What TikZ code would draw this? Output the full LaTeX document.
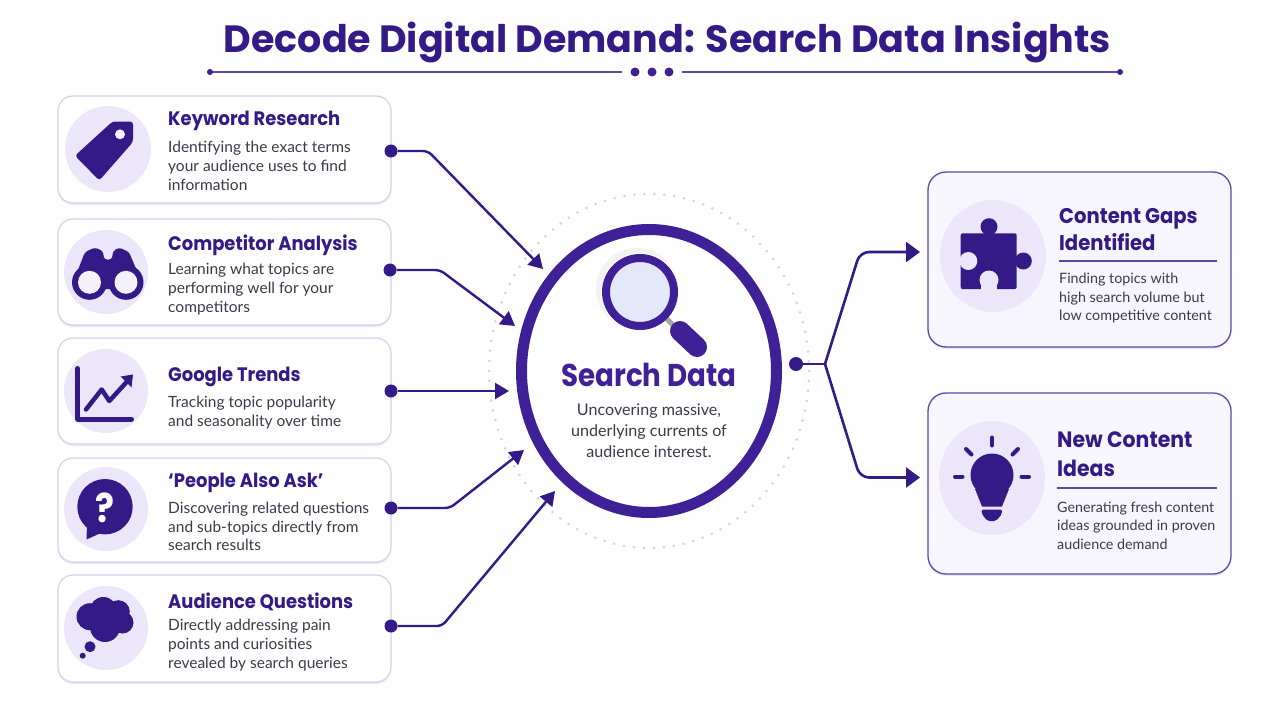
\documentclass[tikz,border=0pt]{standalone}
\usepackage{fontspec}
\setmainfont{Lato}
\newfontfamily\titlefont{Poppins}
\newfontfamily\headfont{Poppins}[FakeStretch=0.92]
\newfontfamily\hubfont{Poppins}[FakeStretch=0.88]
\usetikzlibrary{arrows.meta,shapes.geometric,shadows}
\definecolor{inkdark}{HTML}{341A86}
\definecolor{ringblue}{HTML}{3F2096}
\definecolor{lavender}{HTML}{ECE6FA}
\definecolor{cardedge}{HTML}{D6CFF0}
\definecolor{bodytext}{HTML}{3B3A4A}
\definecolor{panelfill}{HTML}{F7F5FE}
\definecolor{paneledge}{HTML}{5D48A8}
\definecolor{ruleline}{HTML}{5D48A8}
\definecolor{dotgrey}{HTML}{D4D4DC}
\definecolor{lensfill}{HTML}{E4E8FA}
\tikzset{
  softshadow/.style={drop shadow={shadow xshift=0pt,shadow yshift=-2pt,opacity=.12,fill=paneledge}},
  card/.style={draw=cardedge,line width=1.2pt,fill=white,rounded corners=15pt,minimum width=333pt,inner sep=0pt,softshadow},
  panel/.style={draw=paneledge,line width=1.3pt,fill=panelfill,rounded corners=18pt,minimum width=303pt,inner sep=0pt,softshadow},
  cardhead/.style={anchor=west,inner sep=0pt,text=inkdark,font=\headfont\bfseries\fontsize{19.5}{24}\selectfont,align=left},
  cardtext/.style={anchor=west,inner sep=0pt,text=bodytext,font=\fontsize{15.5}{18.8}\selectfont,align=left},
  panelhead/.style={anchor=west,inner sep=0pt,text=inkdark,font=\headfont\bfseries\fontsize{21.3}{26.5}\selectfont,align=left},
  paneltext/.style={anchor=west,inner sep=0pt,text=bodytext,font=\fontsize{14.3}{18.5}\selectfont,align=left},
  startdot/.style={circle,fill=inkdark,inner sep=0pt,minimum size=13pt},
  titledot/.style={circle,fill=ringblue,inner sep=0pt,minimum size=9pt},
  enddot/.style={circle,fill=ringblue,inner sep=0pt,minimum size=6pt},
  inlink/.style={draw=inkdark,line width=2.4pt,rounded corners=5pt,-{Triangle[length=14pt,width=16pt]}},
  outlink/.style={draw=inkdark,line width=2.6pt,rounded corners=9pt,-{Triangle[length=14pt,width=20pt]}},
  icon/.style={fill=inkdark,draw=none},
  iconback/.style={fill=lavender,draw=none},
  ray/.style={draw=inkdark,line width=4pt,line cap=round},
}
\begin{document}
\begin{tikzpicture}[x=1pt,y=-1pt]
  \fill[white!98!lavender] (0,0) rectangle (1280,720);
  \useasboundingbox (0,0) rectangle (1280,720);

  % title
  \node (title) at (667.5,43) [inner sep=0pt,text=inkdark,font=\titlefont\bfseries\fontsize{38}{44}\selectfont] {Decode Digital Demand: Search Data Insights};
  \node (titleA) at (210,72) [enddot] {};
  \node (titleB) at (635,72) [titledot] {};
  \node (titleC) at (652,72) [titledot] {};
  \node (titleD) at (669,72) [titledot] {};
  \node (titleE) at (1120,72) [enddot] {};
  \coordinate (ruleA) at (622,72);
  \coordinate (ruleB) at (682,72);
  \draw[ruleline,line width=1.5pt] (titleA) -- (ruleA);
  \draw[ruleline,line width=1.5pt] (ruleB) -- (titleE);

  % left cards
  \node (kwcard) at (224.5,149.5) [card,minimum height=107pt] {};
  \node (cacard) at (224.5,272) [card,minimum height=106pt] {};
  \node (gtcard) at (224.5,391) [card,minimum height=106pt] {};
  \node (pacard) at (224.5,510) [card,minimum height=104pt] {};
  \node (aqcard) at (224.5,628.5) [card,minimum height=107pt] {};

  \fill[iconback] (108,149) circle (43);
  \fill[iconback] (106,272) circle (42);
  \fill[iconback] (106,391) circle (42);
  \fill[iconback] (106,509) circle (42);
  \fill[iconback] (106,628) circle (42);

  \node (kwhead) at (168,121) [cardhead] {Keyword Research};
  \node (kwtext) at (168,166) [cardtext] {Identifying the exact terms\\your audience uses to find\\information};
  \node (cahead) at (168,245) [cardhead] {Competitor Analysis};
  \node (catext) at (168,289) [cardtext] {Learning what topics are\\performing well for your\\competitors};
  \node (gthead) at (168,377) [cardhead] {Google Trends};
  \node (gttext) at (168,412.5) [cardtext] {Tracking topic popularity\\and seasonality over time};
  \node (pahead) at (168,483) [cardhead] {‘People Also Ask’};
  \node (patext) at (168,526.5) [cardtext] {Discovering related questions\\and sub-topics directly from\\search results};
  \node (aqhead) at (168,602) [cardhead] {Audience Questions};
  \node (aqtext) at (168,645) [cardtext] {Directly addressing pain\\points and curiosities\\revealed by search queries};

  % tag icon
  \fill[icon,rounded corners=3pt] (112.5,121.5) -- (133,121.5) -- (133,142) -- (99.3,180.5) -- (75,155.7) -- cycle;
  \fill[lavender!60!white] (120,134.3) circle (5);
  % binoculars icon
  \fill[icon,rounded corners=3pt] (72.5,284) -- (85,252) -- (95,247.5) -- (103,251) -- (104,259.5) -- (112,259.5) -- (113,251) -- (119,247.5) -- (129,252) -- (142.5,284) -- (126,289) -- (89,289) -- cycle;
  \fill[icon] (89.5,282.3) circle (17.5);
  \fill[icon] (126,282.3) circle (17.5);
  \fill[lavender!60!white] (89.5,282.3) circle (11.5);
  \fill[lavender!60!white] (126,282.3) circle (11.5);
  % chart icon
  \draw[inkdark,line width=5pt,line cap=round,line join=round] (77.7,368.5) -- (77.7,419) -- (131.5,419);
  \draw[inkdark,line width=4.5pt,line cap=round,line join=round] (86,409.5) -- (101.7,389.5) -- (109.3,401) -- (128,380.5);
  \fill[icon] (133,374.5) -- (120.7,376.5) -- (131.5,387.5) -- cycle;
  % question bubble icon
  \fill[icon] (105,506.7) circle (27.7);
  \fill[icon] (87,525) -- (86.5,539.5) -- (103,532) -- cycle;
  \node (qmark) at (105,508) [inner sep=0pt,text=white,font=\hubfont\bfseries\fontsize{40}{40}\selectfont] {?};
  % cloud icon
  \fill[icon] (90,616.7) circle (13.5);
  \fill[icon] (103.3,610.5) circle (13.5);
  \fill[icon] (118.3,611.7) circle (11.5);
  \fill[icon] (122.5,622.5) circle (11);
  \fill[icon] (105,627) circle (15);
  \fill[icon] (90,646.7) circle (5.5);
  \fill[icon] (82.7,655.7) circle (3);

  % hub
  \draw[dotgrey,line width=3pt,line cap=round,dash pattern=on 0pt off 10pt] (649,371) ellipse (160 and 177);
  \node (hub) at (649,371) [ellipse,draw=ringblue,line width=11pt,fill=white,inner sep=0pt,minimum width=255pt,minimum height=283pt,softshadow] {};
  % magnifier
  \fill[black!5] (637,289) circle (41);
  \fill[white] (640,292) circle (39);
  \draw[black!35,line width=5pt] (666,318) -- (676,328);
  \draw[ringblue,line width=20pt,line cap=round] (680,331) -- (697,347);
  \draw[ringblue,line width=8pt,fill=lensfill] (640,292) circle (34);
  \node (hubhead) at (649,375) [inner sep=0pt,text=ringblue,font=\hubfont\bfseries\fontsize{31.5}{36}\selectfont] {Search Data};
  \node (hubtext) at (649,430.5) [inner sep=0pt,align=center,text=bodytext,font=\fontsize{16.1}{21}\selectfont] {Uncovering massive,\\underlying currents of\\audience interest.};

  % right panels
  \node (gappanel) at (1079.5,259.5) [panel,minimum height=175pt] {};
  \node (ideapanel) at (1079.5,483.5) [panel,minimum height=181pt] {};
  \fill[iconback] (993,256) ellipse (53 and 56);
  \fill[iconback] (992,478) ellipse (53 and 57);

  \node (gaphead) at (1059,229.5) [panelhead] {Content Gaps\\Identified};
  \node (gaprule) at (1138,261) [minimum width=158pt,minimum height=1.4pt,inner sep=0pt,fill=ruleline] {};
  \node (gaptext) at (1059,298) [paneltext] {Finding topics with\\high search volume but\\low competitive content};
  \node (ideahead) at (1057,454) [panelhead,font=\headfont\bfseries\fontsize{22.2}{29}\selectfont] {New Content\\Ideas};
  \node (idearule) at (1137,488) [minimum width=160pt,minimum height=1.4pt,inner sep=0pt,fill=ruleline] {};
  \node (ideatext) at (1057,525.5) [paneltext] {Generating fresh content\\ideas grounded in proven\\audience demand};

  % puzzle icon
  \fill[icon,rounded corners=2pt] (960.7,233.3) rectangle (1016.7,289);
  \fill[icon] (989,226.7) circle (8.5);
  \fill[icon] (1023.3,261) circle (8.5);
  \fill[iconback] (968.3,261) circle (9);
  \fill[iconback] (989,280) circle (9.5);
  \fill[iconback] (981,281) rectangle (997,290);
  % bulb icon
  \fill[icon] (992,475) circle (21.5);
  \fill[icon] (975,489) -- (982,506.5) -- (1002,506.5) -- (1009,489) -- cycle;
  \fill[icon,rounded corners=2pt] (981.7,509.5) -- (1002,509.5) -- (1002,514) -- (996,521) -- (987.5,521) -- (981.7,514) -- cycle;
  \draw[ray] (992,437.5) -- (992,445.5);
  \draw[ray] (966,449) -- (971.5,454.5);
  \draw[ray] (1018,449) -- (1012.5,454.5);
  \draw[ray] (955,476.5) -- (962.5,476.5);
  \draw[ray] (1021.5,476.5) -- (1029,476.5);

  % links into the hub
  \node (kwdot) at (391,151) [startdot] {};
  \node (cadot) at (390,270) [startdot] {};
  \node (gtdot) at (391,391) [startdot] {};
  \node (padot) at (391,508) [startdot] {};
  \node (aqdot) at (391,626) [startdot] {};
  \coordinate (kwbend) at (428,151);
  \coordinate (cabend) at (440,270);
  \coordinate (pabend) at (450,508);
  \coordinate (aqbend) at (442,626);
  \coordinate (kwtip) at (543,269);
  \coordinate (catip) at (515,326);
  \coordinate (gttip) at (509,391);
  \coordinate (patip) at (524,450);
  \coordinate (aqtip) at (555,491);
  \draw[inlink] (kwdot) -- (kwbend) -- (kwtip);
  \draw[inlink] (cadot) -- (cabend) -- (catip);
  \draw[inlink] (gtdot) -- (gttip);
  \draw[inlink] (padot) -- (pabend) -- (patip);
  \draw[inlink] (aqdot) -- (aqbend) -- (aqtip);

  % links out of the hub
  \node (outdot) at (796,364) [startdot,minimum size=14pt] {};
  \coordinate (fork) at (825,364);
  \coordinate (gapbend) at (860,252);
  \coordinate (ideabend) at (860,477.5);
  \coordinate (gaptip) at (920,252);
  \coordinate (ideatip) at (920,477.5);
  \draw[draw=inkdark,line width=2.6pt] (outdot) -- (fork);
  \draw[outlink] (fork) -- (gapbend) -- (gaptip);
  \draw[outlink] (fork) -- (ideabend) -- (ideatip);
\end{tikzpicture}
\end{document}
